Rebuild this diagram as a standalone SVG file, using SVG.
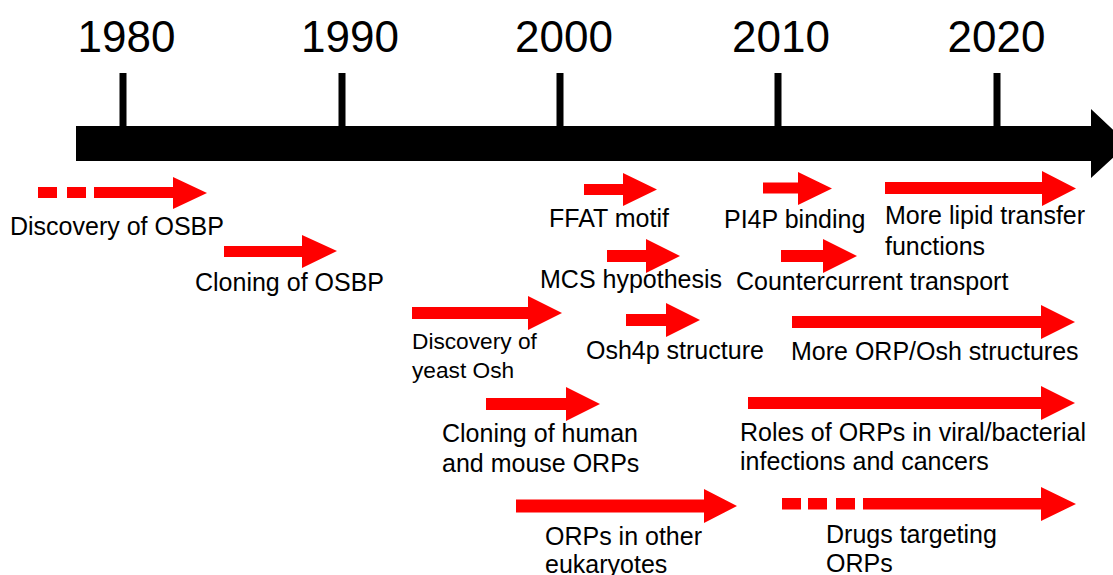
<svg xmlns="http://www.w3.org/2000/svg" width="1113" height="575" viewBox="0 0 1113 575">
<style>
.yr{font-family:"Liberation Sans",Arial,sans-serif;font-size:44px;fill:#000;text-anchor:middle}
.lb{font-family:"Liberation Sans",Arial,sans-serif;font-size:25px;fill:#000}
.lbs{font-family:"Liberation Sans",Arial,sans-serif;font-size:22.7px;fill:#000}
.ar{fill:#ff0000}
.tk{fill:#000}
</style>
<rect width="1113" height="575" fill="#fff"/>
<g id="timeline">
<polygon class="tk" points="76,126 1091,126 1091,109 1128,144 1091,178 1091,161 76,161"/>
<rect class="tk" x="119.5" y="73" width="7" height="54"/>
<rect class="tk" x="338.5" y="73" width="7" height="54"/>
<rect class="tk" x="556.5" y="73" width="7" height="54"/>
<rect class="tk" x="774.5" y="73" width="7" height="54"/>
<rect class="tk" x="993.5" y="73" width="7" height="54"/>
<text class="yr" x="126.5" y="52">1980</text>
<text class="yr" x="350" y="52">1990</text>
<text class="yr" x="564" y="52">2000</text>
<text class="yr" x="781" y="52">2010</text>
<text class="yr" x="996.5" y="52">2020</text>
</g>
<g id="connectors">
<g id="a-discovery-osbp">
<rect class="ar" x="38" y="187" width="19" height="11"/>
<rect class="ar" x="67" y="187" width="19" height="11"/>
<polygon class="ar" points="94,187 173,187 173,177 207,193 173,209 173,198 94,198"/>
</g>
<polygon id="a-cloning-osbp" class="ar" points="224,246 302,246 302,235 337,251 302,268 302,257 224,257"/>
<polygon id="a-ffat" class="ar" points="584,184 623,184 623,173 657,189.5 623,206 623,195 584,195"/>
<polygon id="a-pi4p" class="ar" points="763,182.5 798,182.5 798,172 832,188.5 798,205 798,193.5 763,193.5"/>
<polygon id="a-lipid" class="ar" points="885,182 1042,182 1042,171 1076,188.5 1042,206 1042,194 885,194"/>
<polygon id="a-mcs" class="ar" points="607,250 646,250 646,239 680,256 646,273 646,262 607,262"/>
<polygon id="a-counter" class="ar" points="781,250 823,250 823,239 857,256 823,273 823,262 781,262"/>
<polygon id="a-yeast" class="ar" points="412,307 528,307 528,296 562,313 528,330 528,319 412,319"/>
<polygon id="a-osh4p" class="ar" points="626,314 666,314 666,303 700,320 666,337 666,326 626,326"/>
<polygon id="a-orposh" class="ar" points="792,316 1041,316 1041,305 1075,322 1041,339 1041,328 792,328"/>
<polygon id="a-human" class="ar" points="486,398 566,398 566,387 600,404 566,421 566,410 486,410"/>
<polygon id="a-roles" class="ar" points="748,397 1041,397 1041,386 1075,403 1041,420 1041,409 748,409"/>
<polygon id="a-euk" class="ar" points="516,499.5 704,499.5 704,489 737,506 704,523 704,512.5 516,512.5"/>
<g id="a-drugs">
<rect class="ar" x="782" y="498" width="19" height="11.5"/>
<rect class="ar" x="808" y="498" width="19" height="11.5"/>
<rect class="ar" x="836" y="498" width="19" height="11.5"/>
<polygon class="ar" points="863,498 1041,498 1041,487 1076,504 1041,521 1041,509.5 863,509.5"/>
</g>
</g>
<g id="n-discovery-osbp"><text class="lb" x="10" y="235">Discovery of OSBP</text></g>
<g id="n-cloning-osbp"><text class="lb" x="195" y="291">Cloning of OSBP</text></g>
<g id="n-ffat"><text class="lb" x="549" y="227">FFAT motif</text></g>
<g id="n-pi4p"><text class="lb" x="724" y="228">PI4P binding</text></g>
<g id="n-lipid"><text class="lb" x="885" y="224">More lipid transfer</text><text class="lb" x="885" y="255">functions</text></g>
<g id="n-mcs"><text class="lb" x="540" y="288">MCS hypothesis</text></g>
<g id="n-counter"><text class="lb" x="736" y="290">Countercurrent transport</text></g>
<g id="n-yeast"><text class="lbs" x="412" y="349">Discovery of</text><text class="lbs" x="412" y="378">yeast Osh</text></g>
<g id="n-osh4p"><text class="lb" x="586" y="359">Osh4p structure</text></g>
<g id="n-orposh"><text class="lb" x="791" y="360">More ORP/Osh structures</text></g>
<g id="n-human"><text class="lb" x="442" y="442">Cloning of human</text><text class="lb" x="442" y="472">and mouse ORPs</text></g>
<g id="n-roles"><text class="lb" x="740" y="441">Roles of ORPs in viral/bacterial</text><text class="lb" x="740" y="470">infections and cancers</text></g>
<g id="n-euk"><text class="lb" x="545" y="545">ORPs in other</text><text class="lb" x="545" y="573">eukaryotes</text></g>
<g id="n-drugs"><text class="lb" x="826" y="543">Drugs targeting</text><text class="lb" x="826" y="572">ORPs</text></g>
</svg>
